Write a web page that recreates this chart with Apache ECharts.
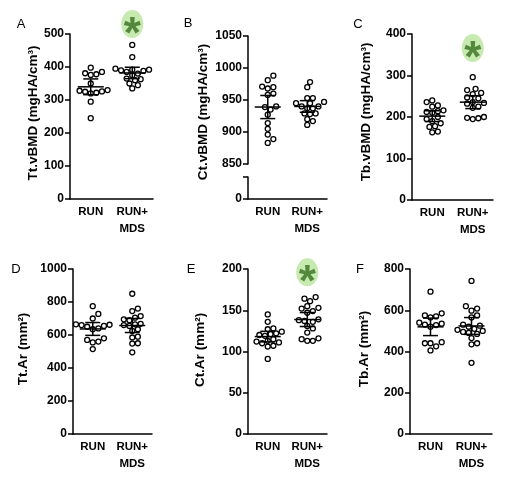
<!DOCTYPE html>
<html><head><meta charset="utf-8">
<script src="https://cdn.jsdelivr.net/npm/echarts@6/dist/echarts.min.js"></script>
<style>html,body{margin:0;padding:0;background:#fff}#c{width:518px;height:485px}</style>
</head><body><div id="c"></div>
<script>
// ---------- data ----------
const categories = ['RUN', 'RUN+\nMDS'];
const ttVbmdRun = [398, 385, 378, 381, 376, 350, 330, 325, 322, 328, 320, 326, 295, 245];
const ttVbmdMds = [467, 430, 395, 392, 390, 388, 385, 392, 380, 375, 365, 363, 360, 350, 345, 335];
const ctVbmdRun = [988, 981, 970, 971, 968, 960, 958, 940, 939, 935, 927, 914, 905, 896, 889, 883];
const ctVbmdMds = [978, 970, 953, 945, 937, 928, 947, 953, 945, 937, 940, 940, 929, 929, 920, 917, 911];
const tbVbmdRun = [240, 236, 228, 225, 214, 212, 216, 210, 200, 195, 190, 185, 178, 176, 165, 163];
const tbVbmdMds = [296, 268, 265, 258, 255, 247, 245, 236, 234, 232, 225, 222, 200, 197, 195, 198];
const ttArRun = [775, 728, 700, 665, 660, 662, 655, 650, 640, 635, 580, 570, 560, 555, 515];
const ttArMds = [850, 760, 745, 715, 705, 695, 690, 668, 665, 660, 655, 635, 625, 590, 585, 550, 548, 495];
const ctArRun = [145, 136, 128, 127, 124, 122, 121, 120, 119, 115, 113, 112, 111, 110, 107, 106, 91];
const ctArMds = [166, 164, 161, 155, 153, 152, 149, 147, 139, 138, 137, 136, 131, 128, 123, 116, 115, 113, 113];
const tbArRun = [690, 585, 575, 570, 565, 540, 535, 530, 528, 520, 445, 440, 440, 425, 405];
const tbArMds = [742, 620, 608, 598, 575, 565, 530, 525, 520, 510, 505, 500, 495, 490, 485, 465, 440, 435, 345];

const ticksA = [0, 100, 200, 300, 400, 500];
const ticksB = [850, 900, 950, 1000, 1050];
const ticksBLow = [0];
const ticksC = [0, 100, 200, 300, 400];
const ticksD = [0, 200, 400, 600, 800, 1000];
const ticksE = [0, 50, 100, 150, 200];
const ticksF = [0, 200, 400, 600, 800];

// level of the significance mark (above RUN+MDS)
const sigA = 530, sigC = 366, sigE = 196;

// ---------- layout ----------
const FONT = "'Liberation Sans', Arial, Helvetica, sans-serif";
const panels = [
  {letter:'A', title:'Tt.vBMD (mgHA/cm³)', run:ttVbmdRun, mds:ttVbmdMds, ticks:ticksA, sig:sigA,
   grid:[70,34,83,165], titlePos:[33,113], letterPos:[21,24]},
  {letter:'B', title:'Ct.vBMD (mgHA/cm³)', run:ctVbmdRun, mds:ctVbmdMds, ticks:ticksB, sig:null,
   grid:[248,36,79,128], lower:[248,177,79,22], lowTicks:ticksBLow, titlePos:[203,112], letterPos:[188,23]},
  {letter:'C', title:'Tb.vBMD (mgHA/cm³)', run:tbVbmdRun, mds:tbVbmdMds, ticks:ticksC, sig:sigC,
   grid:[412,34,81,166], titlePos:[366,112], letterPos:[358,24]},
  {letter:'D', title:'Tt.Ar (mm²)', run:ttArRun, mds:ttArMds, ticks:ticksD, sig:null,
   grid:[73,269,79,165], titlePos:[23,349], letterPos:[16,269]},
  {letter:'E', title:'Ct.Ar (mm²)', run:ctArRun, mds:ctArMds, ticks:ticksE, sig:sigE,
   grid:[248,269,79,165], titlePos:[200,350], letterPos:[191,269]},
  {letter:'F', title:'Tb.Ar (mm²)', run:tbArRun, mds:tbArMds, ticks:ticksF, sig:null,
   grid:[410,269,82,165], titlePos:[364,349], letterPos:[360,269]}
];

const T95 = {12:2.179,13:2.160,14:2.145,15:2.131,16:2.120,17:2.110,18:2.101,19:2.093,20:2.086,21:2.080};
function stats(arr){
  const n = arr.length, m = arr.reduce((a,b)=>a+b,0)/n;
  const sd = Math.sqrt(arr.reduce((a,b)=>a+(b-m)*(b-m),0)/(n-1));
  const h = (T95[n-1] || 2.1) * sd / Math.sqrt(n);
  return [m, m-h, m+h];
}

const lineW = 1.5;
function catAxis(gi, show){
  return {type:'category', gridIndex:gi, data:categories, boundaryGap:true, show:show,
    axisLine:{show:true, lineStyle:{color:'#000', width:lineW}},
    axisTick:{show:false},
    axisLabel:{color:'#000', fontFamily:FONT, fontWeight:'bold', fontSize:11.5, lineHeight:17, margin:4, interval:0}};
}
function valAxis(gi, ticks, fmt){
  const min = ticks[0], max = ticks[ticks.length-1];
  const interval = ticks.length > 1 ? ticks[1]-ticks[0] : undefined;
  return {type:'value', gridIndex:gi, min:min, max:max, interval:interval,
    axisLine:{show:true, lineStyle:{color:'#000', width:lineW}},
    axisTick:{show:true, inside:false, length:5, lineStyle:{color:'#000', width:lineW}},
    splitLine:{show:false},
    axisLabel:{color:'#000', fontFamily:FONT, fontWeight:'bold', fontSize:12, margin:6,
               formatter: fmt || (v => String(v))}};
}
function renderCI(params, api){
  const c = api.value(0), m = api.value(1), lo = api.value(2), hi = api.value(3);
  const pm = api.coord([c, m]), pl = api.coord([c, lo]), ph = api.coord([c, hi]);
  const st = {stroke:'#000', lineWidth:lineW};
  return {type:'group', children:[
    {type:'line', shape:{x1:pm[0]-13, y1:pm[1], x2:pm[0]+13, y2:pm[1]}, style:st},
    {type:'line', shape:{x1:pl[0], y1:pl[1], x2:ph[0], y2:ph[1]}, style:st},
    {type:'line', shape:{x1:pl[0]-7.5, y1:pl[1], x2:pl[0]+7.5, y2:pl[1]}, style:st},
    {type:'line', shape:{x1:ph[0]-7.5, y1:ph[1], x2:ph[0]+7.5, y2:ph[1]}, style:st}
  ]};
}

const grids=[], xAxes=[], yAxes=[], series=[], graphics=[], scatterRefs=[];
panels.forEach((p, pi) => {
  const gi = grids.length;
  grids.push({left:p.grid[0], top:p.grid[1], width:p.grid[2], height:p.grid[3]});
  xAxes.push(catAxis(gi, !p.lower));
  yAxes.push(valAxis(gi, p.ticks));
  if (p.lower){
    grids.push({left:p.lower[0], top:p.lower[1], width:p.lower[2], height:p.lower[3]});
    xAxes.push(catAxis(gi+1, true));
    const ax = valAxis(gi+1, [p.lowTicks[0], p.lowTicks[0]+1], v => (v === p.lowTicks[0] ? String(v) : ''));
    yAxes.push(ax);
  }
  [p.run, p.mds].forEach((vals, ci) => {
    const id = 'sc'+pi+'_'+ci;
    scatterRefs.push({id, cat:ci, values:vals, seriesIndex:series.length});
    series.push({id, type:'scatter', xAxisIndex:gi, yAxisIndex:gi, symbol:'circle', symbolSize:5,
      itemStyle:{color:'#fff', borderColor:'#000', borderWidth:1.3, opacity:1},
      data: vals.map(v => [ci, v]), z:3, silent:true, clip:false});
  });
  series.push({type:'custom', xAxisIndex:gi, yAxisIndex:gi, renderItem:renderCI, z:5, silent:true,
    encode:{x:0, y:[1,2,3]},
    data:[p.run, p.mds].map((vals, ci) => [ci].concat(stats(vals)))});
  if (p.sig !== null){
    series.push({type:'scatter', xAxisIndex:gi, yAxisIndex:gi, symbol:'circle', symbolSize:[22,28],
      itemStyle:{color:'#b9e59e'}, clip:false, silent:true, z:2,
      label:{show:true, position:'inside', formatter:'*', offset:[0,11.5], color:'#377020',
             fontSize:44, fontWeight:'bold', fontFamily:FONT},
      data:[[1, p.sig]]});
  }
  graphics.push({type:'text', x:p.titlePos[0], y:p.titlePos[1], rotation:Math.PI/2, silent:true,
    style:{text:p.title, fill:'#000', fontFamily:FONT, fontWeight:'bold', fontSize:13.5,
           align:'center', verticalAlign:'middle'}});
  graphics.push({type:'text', x:p.letterPos[0], y:p.letterPos[1], silent:true,
    style:{text:p.letter, fill:'#000', fontFamily:FONT, fontSize:13, align:'center', verticalAlign:'middle'}});
});

const chart = echarts.init(document.getElementById('c'), null, {renderer:'canvas'});
chart.setOption({animation:false, backgroundColor:'#fff', grid:grids, xAxis:xAxes, yAxis:yAxes,
  series:series, graphic:graphics});

// beeswarm jitter (pixel space) so points do not overlap
const DIAM = 5.6, STEP = DIAM/2;
const updates = scatterRefs.map(ref => {
  const pts = ref.values.map((v,i) => ({i, v, py: chart.convertToPixel({seriesIndex:ref.seriesIndex}, [ref.cat, v])[1], x:0}));
  const order = pts.slice().sort((a,b) => b.py - a.py);
  const placed = [];
  order.forEach(p => {
    for (let k=0; k<80; k++){
      const off = k === 0 ? 0 : (k % 2 ? 1 : -1) * Math.ceil(k/2) * STEP;
      if (placed.every(q => Math.hypot(q.x-off, q.py-p.py) >= DIAM - 0.01)){ p.x = off; placed.push(p); break; }
    }
  });
  return {id:ref.id, data: pts.map(p => ({value:[ref.cat, p.v], symbolOffset:[p.x, 0]}))};
});
chart.setOption({series:updates});
</script></body></html>
